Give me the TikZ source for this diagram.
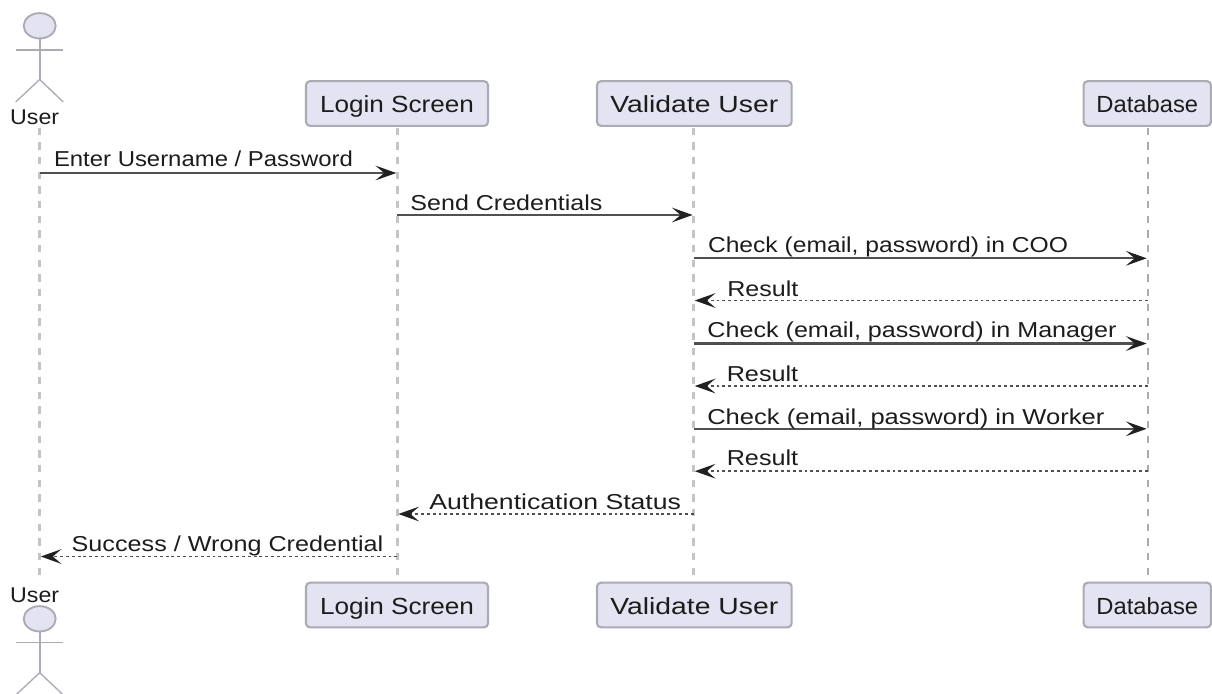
\documentclass[tikz,border=0pt]{standalone}
\usepackage{graphicx}
\usepackage{fontspec}
\setmainfont{Liberation Sans}
\usetikzlibrary{arrows.meta,shapes.geometric}
\definecolor{boxfill}{HTML}{E3E3F1}
\definecolor{boxline}{HTML}{ABABB5}
\definecolor{lifeline}{HTML}{C4C4C4}
\definecolor{lifedark}{HTML}{ABABAB}
\definecolor{msgline}{HTML}{505050}
\definecolor{headink}{HTML}{202020}
\definecolor{inktext}{HTML}{1C1C1C}
\newcommand{\fitw}[2]{\resizebox{\dimexpr #1pt*3/4\relax}{\height}{#2}}
\tikzset{
  x=0.75pt,y=-0.75pt,
  partbox/.style={draw=boxline,fill=boxfill,line width=1.6pt,rounded corners=3pt,inner sep=0pt,
    text=inktext,font=\fontsize{17.5}{20}\selectfont,text height=17.5pt,text depth=4pt,minimum height=33.5pt},
  actorname/.style={anchor=base,inner sep=0pt,text=inktext,font=\fontsize{16}{18}\selectfont},
  actorhead/.style={draw=boxline,fill=boxfill,line width=1.4pt,ellipse,inner sep=0pt,minimum width=24pt,minimum height=19pt},
  spine/.style={draw=boxline,line width=1.6pt},
  limb/.style={draw=boxline,line width=1pt},
  life/.style={draw=lifeline,line width=2.2pt,dash pattern=on 5.5pt off 5.5pt},
  lifethin/.style={draw=lifedark,line width=1.7pt,dash pattern=on 5.5pt off 5.5pt},
  msglabel/.style={anchor=base,inner sep=0pt,text=inktext,font=\fontsize{16.2}{18}\selectfont},
  callmsg/.style={draw=msgline,line width=1.6pt,shorten >=0.8pt,-{Stealth[length=15.5pt,width=11pt,inset=6.5pt,color=headink]}},
  retmsg/.style={draw=msgline,line width=1.4pt,dash pattern=on 2.2pt off 2.2pt,shorten >=0.8pt,-{Stealth[length=15.5pt,width=11pt,inset=6.5pt,color=headink]}},
}
\begin{document}
\begin{tikzpicture}
\useasboundingbox (0,0) rectangle (1212,693);
% participants
\node[partbox,minimum width=136.5pt] (login) at (397,103.5) {\fitw{154}{Login Screen}};
\node[partbox,minimum width=146pt] (valid) at (694.3,103.5) {\fitw{168}{Validate User}};
\node[partbox,minimum width=95.5pt] (db) at (1147.3,103.5) {\fitw{101.7}{Database}};
\node[partbox,minimum width=136.5pt] (loginb) at (397,605) {\fitw{154}{Login Screen}};
\node[partbox,minimum width=146pt] (validb) at (694.3,605) {\fitw{168}{Validate User}};
\node[partbox,minimum width=95.5pt] (dbb) at (1147.3,605) {\fitw{101.7}{Database}};
% actors
\node[actorname] (user) at (34.7,124.3) {\fitw{49}{User}};
\node[actorname] (userb) at (34.7,602.8) {\fitw{49}{User}};
\node[actorhead] (head) at (39.7,25.8) {};
\node[actorhead] (headb) at (39.7,618.8) {};
\coordinate (hip) at (39.7,79.5);
\coordinate (armL) at (15.7,50);
\coordinate (armR) at (63.3,50);
\coordinate (legL) at (15.7,102);
\coordinate (legR) at (63.3,102);
\draw[spine] (head.south) -- (hip);
\draw[limb] (armL) -- (armR);
\draw[limb] (legL) -- (hip) -- (legR);
\coordinate (hipb) at (39.7,672.7);
\coordinate (armLb) at (15.7,642.7);
\coordinate (armRb) at (63.3,642.7);
\coordinate (legLb) at (15.7,695);
\coordinate (legRb) at (63.3,695);
\draw[spine] (headb.south) -- (hipb);
\draw[limb] (armLb) -- (armRb);
\begin{scope}
\clip (0,0) rectangle (1212,693);
\draw[limb] (legLb) -- (hipb) -- (legRb);
\end{scope}
% lifelines
\coordinate (ut) at (39.7,127.5);
\coordinate (ub) at (39.7,578);
\draw[life] (ut) -- (ub);
\coordinate (lt) at (397.3,127.5);
\coordinate (lb) at (397.3,578);
\draw[life] (lt) -- (lb);
\coordinate (vt) at (693.7,127.5);
\coordinate (vb) at (693.7,578);
\draw[life] (vt) -- (vb);
\coordinate (dt) at (1147.7,127.5);
\coordinate (dend) at (1147.7,578);
\draw[lifethin] (dt) -- (dend);
% message anchors
\foreach \n/\y in {1/173,2/215,3/258.3,4/300.5,5/343.5,6/386,7/428.8,8/471.2,9/514,10/556.5}{
  \coordinate (U\n) at (39.7,\y);
  \coordinate (L\n) at (397.3,\y);
  \coordinate (V\n) at (693.7,\y);
  \coordinate (D\n) at (1147.7,\y);
}
\draw[callmsg] (U1) -- (L1);
\draw[callmsg] (L2) -- (V2);
\draw[callmsg] (V3) -- (D3);
\draw[retmsg] (D4) -- (V4);
\draw[callmsg] (V5) -- (D5);
\draw[retmsg] (D6) -- (V6);
\draw[callmsg] (V7) -- (D7);
\draw[retmsg] (D8) -- (V8);
\draw[retmsg] (V9) -- (L9);
\draw[retmsg] (L10) -- (U10);
% labels
\node[msglabel] (t1) at (203.5,166.5) {\fitw{299}{Enter Username / Password}};
\node[msglabel] (t2) at (506.5,210.5) {\fitw{192}{Send Credentials}};
\node[msglabel] (t3) at (888,252.5) {\fitw{360}{Check (email, password) in COO}};
\node[msglabel] (t4) at (762.8,296) {\fitw{71}{Result}};
\node[msglabel] (t5) at (912,337.7) {\fitw{409}{Check (email, password) in Manager}};
\node[msglabel] (t6) at (762.5,381) {\fitw{71.5}{Result}};
\node[msglabel] (t7) at (905.8,424) {\fitw{397}{Check (email, password) in Worker}};
\node[msglabel] (t8) at (762.5,465.8) {\fitw{71.5}{Result}};
\node[msglabel] (t9) at (555.2,509.3) {\fitw{251.7}{Authentication Status}};
\node[msglabel] (t10) at (227.5,551.7) {\fitw{311.6}{Success / Wrong Credential}};
\end{tikzpicture}
\end{document}
